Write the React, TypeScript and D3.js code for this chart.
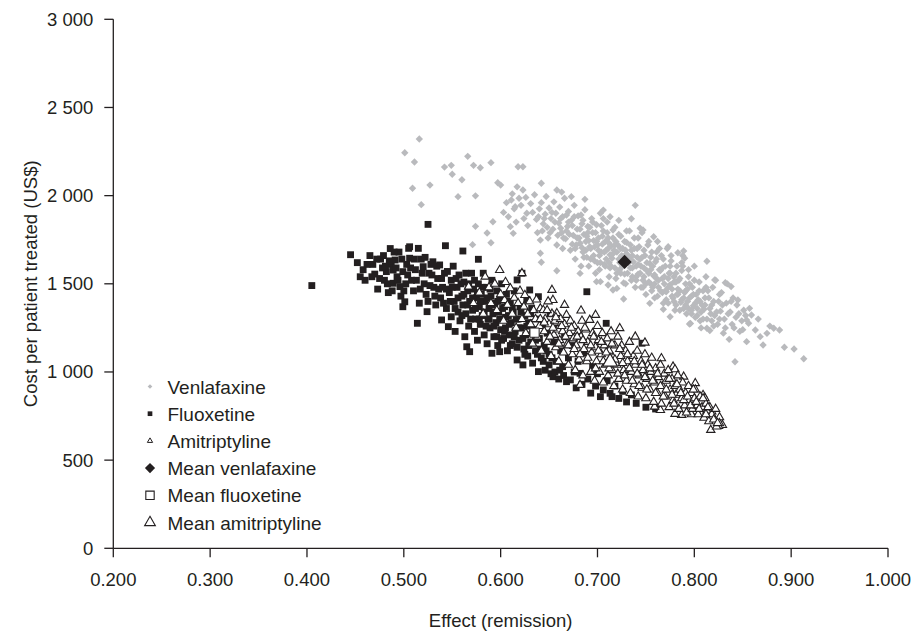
import React from 'react';
import * as d3 from 'd3';

// effect (remission), cost per patient treated (US$)
const venlafaxine: [number, number][] = [
  [0.516, 2321], [0.501, 2243], [0.511, 2191], [0.566, 2223], [0.590, 2187], [0.542, 2162], [0.549, 2172],
  [0.572, 2172], [0.579, 2158], [0.618, 2164], [0.623, 2164], [0.550, 2121], [0.560, 2090], [0.509, 2042],
  [0.527, 2060], [0.518, 1949], [0.556, 1994], [0.574, 1999], [0.597, 2073], [0.600, 2060], [0.574, 1826],
  [0.586, 1788], [0.590, 1733], [0.571, 1722], [0.592, 1852], [0.641, 1673], [0.642, 1622], [0.658, 1574],
  [0.617, 2050], [0.623, 2032], [0.642, 2070], [0.658, 2032], [0.663, 2020], [0.673, 1994], [0.687, 1979],
  [0.611, 1975], [0.615, 1937], [0.627, 1900], [0.610, 1824], [0.613, 1786], [0.641, 1748],
  [0.603, 1905], [0.606, 1960], [0.608, 1880], [0.612, 2010], [0.614, 1925], [0.616, 1850], [0.619, 1985],
  [0.621, 1945], [0.624, 1870], [0.626, 1990], [0.628, 1830],
  [0.631, 1955], [0.633, 1905], [0.635, 2005], [0.637, 1865], [0.638, 1790], [0.640, 1925], [0.642, 1960],
  [0.644, 1840], [0.646, 1895], [0.647, 1995], [0.649, 1760], [0.650, 1930], [0.652, 1870],
  [0.654, 1810], [0.655, 1965], [0.657, 1900], [0.658, 1720], [0.660, 1845], [0.661, 1935], [0.663, 1790],
  [0.664, 1880], [0.666, 1985], [0.667, 1755], [0.669, 1825], [0.670, 1910], [0.672, 1690],
  [0.673, 1860], [0.675, 1775], [0.676, 1945], [0.677, 1640], [0.679, 1810], [0.680, 1885], [0.682, 1730],
  [0.683, 1600], [0.684, 1840], [0.686, 1780], [0.687, 1920], [0.688, 1690], [0.690, 1825], [0.691, 1745], [0.693, 1640],
  [0.694, 1870], [0.695, 1790], [0.697, 1710], [0.698, 1560], [0.699, 1835], [0.701, 1760], [0.702, 1660],
  [0.703, 1900], [0.705, 1725], [0.706, 1800], [0.707, 1610], [0.709, 1690], [0.710, 1850], [0.711, 1760], [0.712, 1540],
  [0.714, 1715], [0.715, 1645], [0.716, 1805], [0.718, 1590], [0.719, 1740], [0.720, 1680], [0.722, 1860],
  [0.723, 1620], [0.724, 1770], [0.726, 1700], [0.727, 1505], [0.728, 1555], [0.730, 1735], [0.731, 1665], [0.733, 1800],
  [0.734, 1590], [0.735, 1690], [0.737, 1625], [0.738, 1760], [0.739, 1480], [0.741, 1650], [0.742, 1555],
  [0.743, 1710], [0.745, 1600], [0.746, 1790], [0.747, 1520], [0.749, 1660], [0.750, 1440], [0.751, 1575], [0.752, 1720],
  [0.754, 1615], [0.755, 1500], [0.756, 1680], [0.758, 1545], [0.759, 1420], [0.760, 1625], [0.762, 1740],
  [0.763, 1480], [0.764, 1580], [0.766, 1660], [0.767, 1530], [0.768, 1390], [0.770, 1600], [0.771, 1455], [0.772, 1700],
  [0.774, 1560], [0.775, 1495], [0.776, 1630], [0.778, 1420], [0.779, 1540], [0.780, 1350], [0.782, 1600],
  [0.783, 1470], [0.784, 1520], [0.786, 1395], [0.787, 1575], [0.788, 1660], [0.790, 1450], [0.791, 1500], [0.792, 1330],
  [0.794, 1540], [0.795, 1420], [0.796, 1275], [0.798, 1480], [0.799, 1375], [0.800, 1600], [0.802, 1440],
  [0.803, 1320], [0.805, 1510], [0.806, 1400], [0.807, 1250], [0.809, 1460], [0.810, 1355], [0.812, 1540], [0.813, 1300],
  [0.815, 1420], [0.816, 1235], [0.818, 1380], [0.819, 1480], [0.821, 1320], [0.822, 1520], [0.824, 1270],
  [0.825, 1400], [0.827, 1345], [0.828, 1450], [0.830, 1220], [0.831, 1300],
  [0.833, 1390], [0.834, 1500], [0.836, 1185], [0.837, 1340], [0.839, 1270], [0.840, 1420], [0.842, 1058],
  [0.843, 1310], [0.845, 1408], [0.844, 1380], [0.847, 1230], [0.849, 1290], [0.851, 1350], [0.854, 1172],
  [0.854, 1295], [0.856, 1276], [0.857, 1361], [0.859, 1323],
  [0.863, 1238], [0.866, 1300], [0.868, 1200], [0.871, 1153], [0.875, 1219], [0.878, 1260], [0.882, 1248],
  [0.888, 1238], [0.893, 1140], [0.903, 1130], [0.913, 1075],
  [0.739, 1945], [0.706, 1918], [0.713, 1880], [0.735, 1869], [0.744, 1815], [0.747, 1805], [0.758, 1767],
  [0.773, 1710], [0.783, 1676], [0.789, 1686], [0.790, 1645], [0.813, 1628], [0.821, 1522], [0.832, 1506], [0.838, 1484],
  [0.813, 1248], [0.795, 1272], [0.775, 1313], [0.768, 1355], [0.754, 1389], [0.727, 1414], [0.720, 1474],
  [0.711, 1493], [0.703, 1512], [0.682, 1559], [0.699, 1512], [0.716, 1465],
  [0.681, 1760], [0.684, 1705], [0.689, 1770], [0.692, 1710], [0.696, 1745], [0.700, 1720], [0.704, 1680],
  [0.708, 1740], [0.711, 1700], [0.713, 1665], [0.717, 1690], [0.721, 1720], [0.725, 1660], [0.729, 1690],
  [0.732, 1620], [0.736, 1660], [0.740, 1600], [0.744, 1640], [0.748, 1590], [0.753, 1560], [0.757, 1600],
  [0.761, 1530], [0.765, 1575], [0.769, 1500], [0.773, 1530], [0.777, 1470], [0.781, 1510], [0.785, 1460],
  [0.789, 1420], [0.793, 1470], [0.797, 1430], [0.801, 1390], [0.804, 1410], [0.808, 1380], [0.811, 1420], [0.817, 1330],
  [0.686, 1650], [0.691, 1600], [0.697, 1630], [0.702, 1580], [0.708, 1600], [0.713, 1590], [0.719, 1530],
  [0.724, 1560], [0.729, 1500], [0.735, 1520], [0.740, 1540], [0.745, 1480], [0.750, 1500], [0.756, 1460],
  [0.762, 1430], [0.767, 1450], [0.773, 1390], [0.779, 1400], [0.785, 1350], [0.791, 1380], [0.797, 1330], [0.803, 1360],
  [0.662, 1870], [0.668, 1800], [0.674, 1830], [0.678, 1720], [0.685, 1860], [0.692, 1820], [0.698, 1790],
  [0.704, 1830], [0.710, 1790], [0.716, 1760], [0.722, 1780], [0.728, 1740], [0.734, 1720], [0.741, 1700],
  [0.748, 1690], [0.755, 1650], [0.761, 1680], [0.768, 1640], [0.775, 1600], [0.781, 1560], [0.787, 1620], [0.794, 1580],
  [0.639, 1880], [0.643, 1800], [0.645, 1870], [0.648, 1820], [0.651, 1790], [0.653, 1905], [0.656, 1850],
  [0.659, 1775], [0.662, 1815], [0.665, 1760], [0.668, 1890], [0.671, 1780], [0.674, 1725], [0.676, 1880],
  [0.679, 1760], [0.682, 1810], [0.685, 1680], [0.688, 1740], [0.690, 1790], [0.693, 1700], [0.696, 1660],
  [0.699, 1740], [0.701, 1690], [0.703, 1620], [0.705, 1770], [0.707, 1680], [0.709, 1640], [0.712, 1730],
  [0.714, 1600], [0.716, 1670], [0.718, 1720], [0.720, 1560], [0.722, 1640], [0.724, 1700], [0.726, 1600],
  [0.728, 1660], [0.731, 1560], [0.733, 1640], [0.736, 1590], [0.738, 1700], [0.740, 1520], [0.742, 1610],
  [0.744, 1560], [0.746, 1650], [0.748, 1540], [0.751, 1620], [0.753, 1510], [0.755, 1580], [0.757, 1480],
  [0.759, 1550], [0.761, 1640], [0.763, 1520], [0.765, 1460], [0.767, 1590], [0.769, 1540], [0.771, 1410],
  [0.773, 1480], [0.775, 1560], [0.777, 1430], [0.779, 1510], [0.781, 1380], [0.783, 1440], [0.785, 1530],
  [0.787, 1410], [0.789, 1360], [0.791, 1460], [0.793, 1400], [0.795, 1500], [0.797, 1350], [0.799, 1440],
  [0.801, 1310], [0.803, 1400], [0.805, 1460], [0.807, 1340], [0.809, 1300], [0.811, 1380], [0.814, 1460],
  [0.816, 1360], [0.818, 1290], [0.820, 1400], [0.823, 1340], [0.826, 1300], [0.829, 1380], [0.832, 1250],
  [0.835, 1330], [0.838, 1400], [0.841, 1250], [0.846, 1330], [0.850, 1240], [0.853, 1320],
  [0.664, 1700], [0.670, 1850], [0.677, 1700], [0.683, 1890], [0.689, 1650], [0.695, 1850], [0.700, 1620],
  [0.706, 1870], [0.712, 1620], [0.718, 1820], [0.723, 1580], [0.730, 1800], [0.736, 1540], [0.742, 1760],
  [0.747, 1480], [0.753, 1740], [0.759, 1500], [0.764, 1700], [0.770, 1460], [0.776, 1660], [0.782, 1440],
  [0.788, 1600], [0.794, 1360], [0.800, 1520], [0.806, 1290], [0.812, 1480], [0.820, 1260], [0.826, 1440],
];

const fluoxetine: [number, number][] = [
  [0.405, 1490], [0.445, 1665], [0.452, 1620], [0.458, 1580], [0.460, 1520], [0.465, 1660], [0.468, 1610],
  [0.470, 1555], [0.473, 1470], [0.476, 1640], [0.478, 1590], [0.480, 1520], [0.482, 1569], [0.484, 1450],
  [0.486, 1700], [0.487, 1610], [0.489, 1578], [0.489, 1503], [0.491, 1635], [0.493, 1540], [0.495, 1680],
  [0.496, 1484], [0.497, 1430], [0.499, 1569], [0.499, 1370], [0.501, 1398], [0.503, 1610], [0.505, 1701],
  [0.506, 1645], [0.506, 1710], [0.508, 1520], [0.510, 1460], [0.512, 1580], [0.514, 1276], [0.515, 1701],
  [0.516, 1390], [0.518, 1640], [0.520, 1597], [0.521, 1500], [0.523, 1440], [0.524, 1342], [0.525, 1837],
  [0.526, 1560], [0.528, 1610], [0.530, 1625], [0.531, 1480], [0.533, 1380], [0.535, 1530], [0.537, 1607],
  [0.538, 1420], [0.539, 1295], [0.540, 1480], [0.542, 1560], [0.543, 1716], [0.544, 1360], [0.546, 1257],
  [0.547, 1450], [0.549, 1313], [0.549, 1520],
  [0.551, 1600], [0.552, 1400], [0.553, 1230], [0.555, 1480], [0.556, 1340], [0.557, 1550], [0.558, 1290],
  [0.560, 1430], [0.561, 1686], [0.561, 1380], [0.562, 1510], [0.563, 1200], [0.564, 1330], [0.565, 1143],
  [0.566, 1460], [0.567, 1260], [0.568, 1115], [0.568, 1400], [0.570, 1560], [0.571, 1350], [0.572, 1470],
  [0.573, 1230], [0.574, 1300], [0.575, 1420], [0.576, 1180], [0.577, 1639], [0.577, 1500], [0.578, 1370],
  [0.579, 1270], [0.580, 1440], [0.581, 1320], [0.582, 1560], [0.583, 1210], [0.584, 1400], [0.585, 1480],
  [0.586, 1160], [0.587, 1300], [0.588, 1360], [0.589, 1250], [0.590, 1430], [0.591, 1106], [0.591, 1520],
  [0.592, 1330], [0.593, 1200], [0.594, 1390], [0.595, 1280], [0.596, 1460], [0.597, 1150], [0.598, 1340],
  [0.599, 1115], [0.599, 1410], [0.600, 1240], [0.601, 1500], [0.602, 1300], [0.603, 1190], [0.604, 1370],
  [0.605, 1250], [0.606, 1440], [0.607, 1120], [0.608, 1320], [0.609, 1210], [0.610, 1390], [0.611, 1280],
  [0.612, 1160], [0.613, 1340], [0.614, 1460], [0.615, 1230], [0.617, 1068], [0.617, 1522], [0.618, 1300],
  [0.619, 1180], [0.620, 1370], [0.621, 1250], [0.622, 1560], [0.623, 1040], [0.624, 1130], [0.625, 1320],
  [0.626, 1210], [0.627, 1410], [0.628, 1090], [0.629, 1280], [0.630, 1465], [0.631, 1170],
  [0.632, 1360], [0.633, 1050], [0.634, 1240], [0.636, 1120], [0.637, 1300], [0.639, 1002], [0.639, 1427],
  [0.640, 1190], [0.642, 1080], [0.643, 1270], [0.645, 1150], [0.646, 1010], [0.648, 1220], [0.650, 1100],
  [0.651, 1330], [0.652, 990], [0.654, 973], [0.655, 1170], [0.657, 1060], [0.659, 1250], [0.660, 960],
  [0.662, 1120], [0.664, 1030], [0.666, 1200], [0.668, 945], [0.670, 1080], [0.672, 955], [0.674, 1150],
  [0.676, 1000], [0.678, 910], [0.680, 1060], [0.682, 992], [0.684, 930], [0.686, 1110], [0.689, 1455],
  [0.690, 960], [0.693, 880], [0.695, 1030], [0.698, 920], [0.700, 990], [0.703, 860], [0.706, 898],
  [0.709, 1276], [0.710, 950], [0.713, 879], [0.715, 860], [0.718, 920], [0.722, 850], [0.726, 890],
  [0.730, 830], [0.735, 870], [0.740, 822], [0.746, 1163], [0.750, 800], [0.760, 790],
  [0.502, 1500], [0.507, 1590], [0.511, 1640], [0.513, 1520], [0.517, 1470], [0.519, 1560], [0.522, 1650],
  [0.525, 1400], [0.527, 1490], [0.529, 1550], [0.532, 1430], [0.534, 1600], [0.536, 1470], [0.539, 1530],
  [0.541, 1390], [0.544, 1470], [0.545, 1570], [0.548, 1400], [0.550, 1480], [0.553, 1360], [0.554, 1530],
  [0.556, 1420], [0.559, 1500], [0.560, 1320], [0.562, 1440], [0.564, 1560], [0.566, 1380], [0.567, 1500],
  [0.569, 1300], [0.571, 1420], [0.573, 1520], [0.574, 1360], [0.576, 1450], [0.578, 1300], [0.579, 1400],
  [0.581, 1480], [0.583, 1340], [0.585, 1260], [0.586, 1420], [0.588, 1300], [0.589, 1470], [0.591, 1380],
  [0.593, 1260], [0.594, 1340], [0.596, 1200], [0.597, 1400], [0.599, 1300], [0.601, 1180], [0.602, 1360],
  [0.604, 1230], [0.605, 1310], [0.607, 1400], [0.609, 1270], [0.610, 1150], [0.612, 1360], [0.614, 1200],
  [0.616, 1300], [0.617, 1140], [0.619, 1250], [0.621, 1340], [0.623, 1190], [0.625, 1100], [0.627, 1260],
  [0.629, 1150], [0.631, 1330], [0.633, 1220], [0.636, 1180], [0.638, 1100], [0.641, 1130], [0.644, 1060],
  [0.647, 1120], [0.650, 1040], [0.653, 1080], [0.656, 1000], [0.661, 1010], [0.665, 980],
  [0.455, 1540], [0.462, 1610], [0.467, 1540], [0.472, 1640], [0.475, 1530], [0.479, 1660], [0.481, 1600],
  [0.483, 1500], [0.485, 1630], [0.488, 1460], [0.490, 1680], [0.492, 1590], [0.494, 1520], [0.498, 1640],
  [0.500, 1460], [0.504, 1550],
];

const amitriptyline: [number, number][] = [
  [0.567, 1484], [0.584, 1540], [0.599, 1578], [0.604, 1408], [0.622, 1560], [0.653, 1465], [0.654, 1408],
  [0.666, 1380], [0.683, 1348], [0.698, 1323], [0.723, 1248], [0.739, 1200], [0.749, 1166], [0.766, 1077],
  [0.778, 1030], [0.780, 1015], [0.789, 973], [0.801, 936], [0.809, 869], [0.811, 851], [0.818, 775],
  [0.826, 743], [0.829, 699], [0.825, 694], [0.817, 671], [0.802, 775], [0.797, 760], [0.787, 756],
  [0.780, 762], [0.765, 784], [0.759, 803], [0.682, 926], [0.823, 690], [0.826, 709],
  [0.572, 1390], [0.578, 1450], [0.582, 1330], [0.588, 1480], [0.590, 1390], [0.594, 1500], [0.596, 1350],
  [0.600, 1440], [0.603, 1290], [0.605, 1510], [0.607, 1380], [0.610, 1474], [0.612, 1330], [0.614, 1420],
  [0.616, 1250], [0.618, 1390], [0.620, 1460], [0.622, 1300],
  [0.624, 1370], [0.625, 1436], [0.626, 1220], [0.628, 1330], [0.630, 1400], [0.631, 1270], [0.633, 1160],
  [0.634, 1350], [0.636, 1300], [0.637, 1410], [0.638, 1200], [0.640, 1260], [0.641, 1360], [0.642, 1120],
  [0.644, 1351], [0.645, 1230], [0.646, 1300], [0.648, 1170], [0.649, 1400], [0.650, 1270], [0.652, 1090],
  [0.653, 1330], [0.655, 1210], [0.656, 1290], [0.657, 1140], [0.658, 1333], [0.659, 1240], [0.660, 1060],
  [0.661, 1180], [0.662, 1300], [0.664, 1230], [0.665, 1110], [0.666, 1270], [0.668, 1323], [0.669, 1160],
  [0.670, 1040], [0.671, 1220], [0.672, 1290], [0.674, 1100], [0.675, 1190], [0.676, 1260], [0.677, 1010],
  [0.678, 1150], [0.680, 1230], [0.681, 1070], [0.683, 1200], [0.684, 1290], [0.685, 980], [0.686, 1130],
  [0.688, 1240], [0.689, 1060], [0.690, 1170], [0.692, 1295], [0.693, 1000], [0.694, 1110], [0.695, 1220],
  [0.697, 950], [0.698, 1140], [0.699, 1060],
  [0.700, 1260], [0.701, 1180], [0.702, 1000], [0.704, 1100], [0.705, 1220], [0.706, 940], [0.707, 1150],
  [0.708, 1040], [0.710, 1190], [0.711, 980], [0.712, 1120], [0.714, 1230], [0.715, 1010], [0.716, 1080],
  [0.717, 920], [0.718, 1150], [0.720, 1040], [0.721, 1200], [0.722, 960], [0.724, 1090], [0.725, 1150],
  [0.726, 900], [0.727, 1010], [0.729, 1120], [0.730, 950], [0.731, 1060], [0.733, 1170], [0.734, 880],
  [0.735, 1000], [0.737, 1090], [0.738, 930], [0.739, 1040],
  [0.741, 1120], [0.742, 860], [0.743, 980], [0.745, 1060], [0.746, 910], [0.747, 1010], [0.749, 1100],
  [0.750, 850], [0.751, 960], [0.752, 1040], [0.754, 900], [0.755, 1000], [0.756, 1080], [0.758, 830],
  [0.759, 940], [0.760, 1020], [0.762, 880], [0.763, 970], [0.765, 1040], [0.766, 820], [0.767, 920],
  [0.769, 990], [0.770, 860], [0.771, 950], [0.773, 1010], [0.774, 800], [0.775, 900], [0.777, 960], [0.778, 840],
  [0.780, 920], [0.781, 870], [0.783, 980], [0.784, 790], [0.785, 900], [0.787, 850], [0.788, 940],
  [0.790, 810], [0.791, 880], [0.792, 770], [0.794, 920], [0.795, 840], [0.797, 880], [0.798, 790],
  [0.800, 850], [0.801, 900], [0.803, 810], [0.804, 760], [0.806, 860], [0.808, 800], [0.810, 740],
  [0.812, 820], [0.813, 780], [0.815, 720], [0.816, 800], [0.818, 760], [0.820, 730], [0.822, 790], [0.824, 710],
  [0.641, 1300], [0.645, 1280], [0.648, 1350], [0.651, 1200], [0.654, 1250], [0.657, 1310], [0.660, 1160],
  [0.663, 1260], [0.667, 1200], [0.670, 1150], [0.673, 1250], [0.676, 1130], [0.679, 1200], [0.682, 1100],
  [0.685, 1180], [0.687, 1250], [0.690, 1080], [0.693, 1150], [0.696, 1200], [0.698, 1020], [0.701, 1120],
  [0.704, 1170], [0.706, 1060], [0.709, 1110], [0.712, 1020], [0.715, 1160], [0.718, 1070], [0.721, 990],
  [0.723, 1130], [0.726, 1050], [0.728, 980], [0.731, 1100], [0.733, 1020], [0.736, 950], [0.738, 1060],
  [0.741, 990], [0.743, 920], [0.746, 1040], [0.749, 970], [0.751, 900], [0.754, 1020], [0.757, 950],
  [0.760, 880], [0.762, 990], [0.765, 920], [0.768, 860], [0.771, 900], [0.774, 960], [0.777, 870],
  [0.779, 820], [0.782, 930], [0.786, 880], [0.789, 840], [0.793, 860], [0.796, 810], [0.799, 900],
  [0.802, 830], [0.805, 790], [0.809, 850], [0.812, 760], [0.814, 800],
];

const meanVenlafaxine: [number, number] = [0.728, 1624];
const meanFluoxetine: [number, number] = [0.635, 1223];
const meanAmitriptyline: [number, number] = [0.713, 1057];

const xTicks = [0.2, 0.3, 0.4, 0.5, 0.6, 0.7, 0.8, 0.9, 1.0];
const yTicks = [0, 500, 1000, 1500, 2000, 2500, 3000];
const legendLabels = ['Venlafaxine', 'Fluoxetine', 'Amitriptyline', 'Mean venlafaxine', 'Mean fluoxetine', 'Mean amitriptyline'];

const INK = '#231f20';
const GREY = '#b9babd';
const FONT = '"Liberation Sans", Arial, Helvetica, sans-serif';

const x = d3.scaleLinear().domain([0.2, 1.0]).range([113.3, 888]);
const y = d3.scaleLinear().domain([0, 3000]).range([548.3, 19.3]);

const fmtY = d3.formatLocale({ decimal: '.', thousands: ' ', grouping: [3], currency: ['$', ''] }).format(',');
const fmtX = d3.format('.3f');

const sym = (type: d3.SymbolType, size: number) => d3.symbol(type, size)() as string;

const diamond = sym(d3.symbolSquare, 27);
const square = sym(d3.symbolSquare, 47);
const triangle = sym(d3.symbolTriangle, 30);
const bigDiamond = sym(d3.symbolSquare, 100);
const bigSquare = sym(d3.symbolSquare, 85);
const bigTriangle = sym(d3.symbolTriangle, 95);

// legend glyphs are smaller than the plotted ones
const legendMarks = [
  { d: sym(d3.symbolSquare, 11), rot: 45, fill: GREY, stroke: 'none', sw: 0 },
  { d: sym(d3.symbolSquare, 22), rot: 0, fill: INK, stroke: 'none', sw: 0 },
  { d: sym(d3.symbolTriangle, 12), rot: 0, fill: '#fff', stroke: INK, sw: 1 },
  { d: sym(d3.symbolSquare, 52), rot: 45, fill: INK, stroke: 'none', sw: 0 },
  { d: sym(d3.symbolSquare, 70), rot: 0, fill: '#fff', stroke: INK, sw: 1.1 },
  { d: sym(d3.symbolTriangle, 50), rot: 0, fill: '#fff', stroke: INK, sw: 1.1 },
];

export default function App() {
  return (
    <svg width={924} height={631} style={{ position: 'absolute', left: 0, top: 0, background: '#fff' }} fontFamily={FONT}>
      {/* scatter clouds */}
      <g>
        {venlafaxine.map(([vx, vy], i) => (
          <path key={i} d={diamond} transform={`translate(${x(vx)},${y(vy)}) rotate(45)`} fill={GREY} />
        ))}
      </g>
      <g>
        {fluoxetine.map(([vx, vy], i) => (
          <path key={i} d={square} transform={`translate(${x(vx)},${y(vy)})`} fill={INK} />
        ))}
      </g>
      <g>
        {amitriptyline.map(([vx, vy], i) => (
          <path key={i} d={triangle} transform={`translate(${x(vx)},${y(vy)})`} fill="#fff" stroke={INK} strokeWidth={1.1} />
        ))}
      </g>

      {/* means */}
      <path d={bigDiamond} transform={`translate(${x(meanVenlafaxine[0])},${y(meanVenlafaxine[1])}) rotate(45)`} fill={INK} />
      <path d={bigSquare} transform={`translate(${x(meanFluoxetine[0])},${y(meanFluoxetine[1])})`} fill="#fff" stroke={INK} strokeWidth={1} />
      <path d={bigTriangle} transform={`translate(${x(meanAmitriptyline[0])},${y(meanAmitriptyline[1])})`} fill="#fff" stroke={INK} strokeWidth={1.2} />

      {/* axes */}
      <g stroke={INK} strokeWidth={1.3} fill="none">
        <line x1={x(0.2)} x2={x(0.2)} y1={y(3000)} y2={y(0)} />
        <line x1={x(0.2)} x2={x(1.0)} y1={y(0)} y2={y(0)} />
        {yTicks.map(t => (
          <line key={t} x1={x(0.2) - 9} x2={x(0.2)} y1={y(t)} y2={y(t)} />
        ))}
        {xTicks.map(t => (
          <line key={t} x1={x(t)} x2={x(t)} y1={y(0)} y2={y(0) + 9} />
        ))}
      </g>
      <g fill={INK} fontSize={18.5}>
        {yTicks.map(t => (
          <text key={t} x={x(0.2) - 20} y={y(t) + 6.5} textAnchor="end">{fmtY(t)}</text>
        ))}
        {xTicks.map(t => (
          <text key={t} x={x(t)} y={586} textAnchor="middle">{fmtX(t)}</text>
        ))}
        <text x={(x(0.2) + x(1.0)) / 2} y={627} textAnchor="middle">Effect (remission)</text>
        <text transform={`translate(37,${(y(0) + y(3000)) / 2}) rotate(-90)`} textAnchor="middle">
          Cost per patient treated (US$)
        </text>
      </g>

      {/* legend */}
      <g fontSize={19} fill={INK}>
        {legendLabels.map((label, i) => {
          const cy = 386.5 + i * 27.2;
          const m = legendMarks[i];
          return (
            <g key={label}>
              <path d={m.d} transform={`translate(150,${cy}) rotate(${m.rot})`} fill={m.fill} stroke={m.stroke} strokeWidth={m.sw} />
              <text x={167.5} y={cy + 7}>{label}</text>
            </g>
          );
        })}
      </g>
    </svg>
  );
}
